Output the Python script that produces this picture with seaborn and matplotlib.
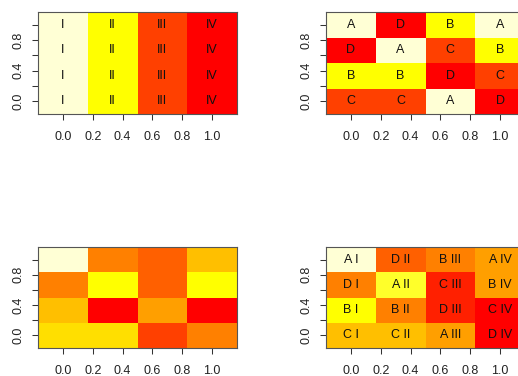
import numpy as np
import matplotlib
matplotlib.use("Agg")
import matplotlib.pyplot as plt
import seaborn as sns
from matplotlib.colors import ListedColormap

# R heat.colors(12)
heat = ["#FF0000", "#FF2000", "#FF4000", "#FF6000", "#FF8000", "#FF9F00",
        "#FFBF00", "#FFDF00", "#FFFF00", "#FFFF2A", "#FFFF80", "#FFFFD5"]

numerals = ["I", "II", "III", "IV"]
# rows listed bottom (y=0) to top (y=1)
letters = [["C", "C", "A", "D"],
           ["B", "B", "D", "C"],
           ["D", "A", "C", "B"],
           ["A", "D", "B", "A"]]
numeral_level = {"I": 11, "II": 8, "III": 2, "IV": 0}
letter_level = {"A": 11, "B": 8, "C": 2, "D": 0}
mixed_levels = [[7, 7, 2, 4],
                [6, 0, 5, 0],
                [4, 8, 3, 8],
                [11, 4, 3, 6]]
combo_levels = [[6, 6, 5, 0],
                [8, 4, 1, 0],
                [4, 9, 1, 5],
                [11, 3, 4, 5]]
tick_values = [0.0, 0.2, 0.4, 0.6, 0.8, 1.0]
y_tick_labels = ["0.0", "", "0.4", "", "0.8", ""]

plt.rcParams["font.family"] = ["Liberation Sans", "DejaVu Sans"]
cmap = ListedColormap(heat)

fig = plt.figure(figsize=(5.18, 3.76), dpi=100)
W, H = 518, 376


def make_ax(left, top, right, bottom):
    return fig.add_axes([left / W, 1 - bottom / H, (right - left) / W, (bottom - top) / H])


def panel(ax, levels, labels=None):
    data = np.array(levels)
    sns.heatmap(data, ax=ax, cmap=cmap, vmin=-0.5, vmax=11.5, cbar=False,
                annot=np.array(labels) if labels is not None else False, fmt="",
                annot_kws={"color": "#111111", "fontsize": 9},
                xticklabels=False, yticklabels=False)
    ax.set_ylim(0, 4)
    ax.set_xlim(0, 4)
    pos = [3 * v + 0.5 for v in tick_values]
    ax.set_xticks(pos)
    ax.set_xticklabels([f"{v:.1f}" for v in tick_values], fontsize=9)
    ax.set_yticks(pos)
    ax.set_yticklabels(y_tick_labels, fontsize=9, rotation=90, va="center")
    ax.tick_params(axis="both", direction="out", length=4.5, width=0.75,
                   color="#333333", labelcolor="#222222")
    ax.tick_params(axis="x", pad=8)
    ax.tick_params(axis="y", pad=5.5)
    for s in ax.spines.values():
        s.set_visible(True)
        s.set_color("#555555")
        s.set_linewidth(0.8)
    ax.set_xlabel("")
    ax.set_ylabel("")


ax1 = make_ax(38, 12, 237, 114)
panel(ax1, [[numeral_level[n] for n in numerals] for _ in range(4)],
      [numerals for _ in range(4)])

ax2 = make_ax(326, 12, 525, 114)
panel(ax2, [[letter_level[c] for c in row] for row in letters], letters)

ax3 = make_ax(38, 247, 237, 348)
panel(ax3, mixed_levels)

ax4 = make_ax(326, 247, 525, 348)
panel(ax4, combo_levels,
      [[f"{c} {n}" for c, n in zip(row, numerals)] for row in letters])

fig.savefig("out.png", dpi=100)
